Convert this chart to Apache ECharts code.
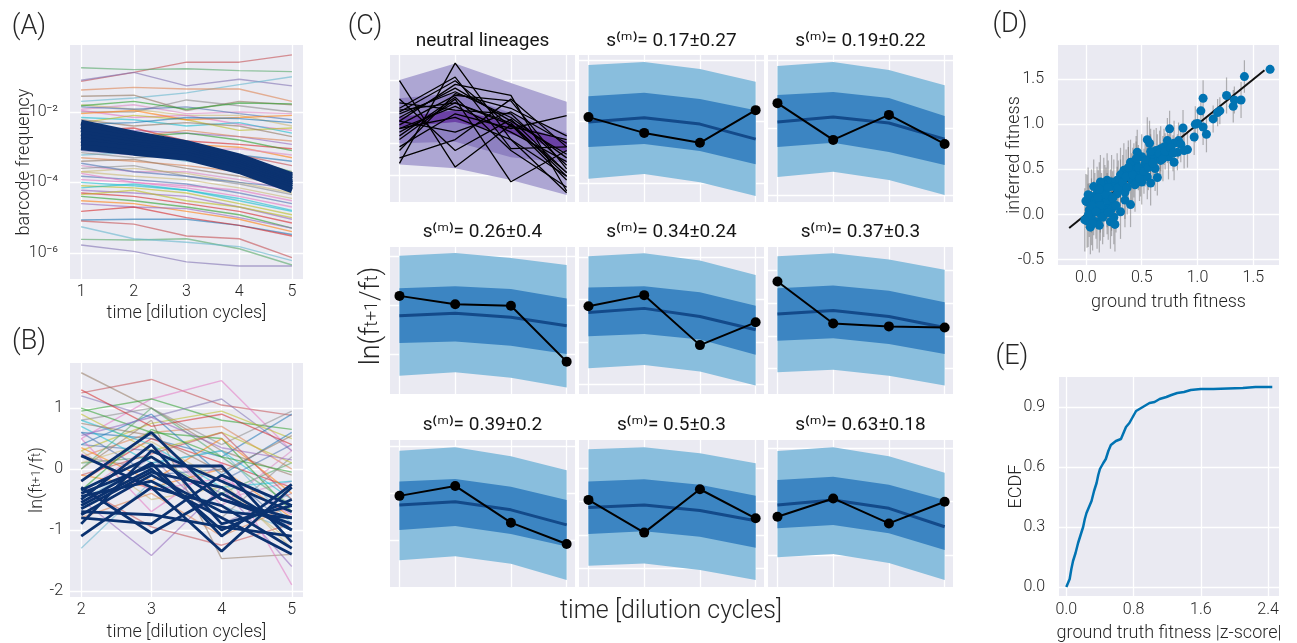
<!DOCTYPE html>
<html><head><meta charset="utf-8">
<script src="https://cdn.jsdelivr.net/npm/echarts@6/dist/echarts.min.js"></script>
<style>html,body{margin:0;padding:0;background:#fff}#c{width:1297px;height:643px}</style>
</head><body><div id="c"></div>
<script>
// ---------------- DATA ----------------
// (A) barcode frequency trajectories
const aTimes = [1, 2, 3, 4, 5];
const aTickValues = [1e-6, 1e-4, 1e-2];
const aLines = [
  [0.074, 0.133, 0.26, 0.26, 0.42],
  [0.18, 0.16, 0.17, 0.15, 0.14],
  [0.08, 0.133, 0.055, 0.085, 0.055],
  [0.02, 0.025, 0.035, 0.06, 0.1],
  [0.042, 0.05, 0.045, 0.045, 0.02],
  [0.028, 0.03, 0.011, 0.02, 0.016],
  [0.012, 0.016, 0.009, 0.01, 0.009],
  [0.01, 0.01, 0.022, 0.015, 0.01],
  [0.016, 0.012, 0.008, 0.008, 0.004],
  [0.014, 0.012, 0.014, 0.009, 0.006],
  [0.011, 0.007, 0.008, 0.0045, 0.003],
  [0.007, 0.006, 0.004, 0.005, 0.0025],
  [0.005, 0.008, 0.006, 0.003, 0.0035],
  [0.004, 0.003, 0.0025, 0.002, 0.0012],
  [0.003, 0.0035, 0.0015, 0.0012, 0.0009],
  [0.0025, 0.002, 0.0025, 0.0016, 0.0008],
  [0.002, 0.0013, 0.0012, 0.001, 0.0005],
  [0.0015, 0.0017, 0.0009, 0.0006, 0.0004],
  [0.0012, 0.0008, 0.001, 0.0006, 0.0003],
  [0.001, 0.0011, 0.0007, 0.0005, 0.0002],
  [0.0008, 0.0006, 0.0005, 0.0004, 0.00016],
  [0.0006, 0.0007, 0.0004, 0.0003, 0.00012],
  [0.0005, 0.0004, 0.0003, 0.0002, 0.0001],
  [0.0004, 0.00045, 0.00025, 0.00015, 7e-5],
  [0.0003, 0.0002, 0.0002, 0.00012, 6e-5],
  [0.00025, 0.0003, 0.00015, 9e-5, 4.5e-5],
  [0.0002, 0.00015, 0.00012, 7e-5, 3.5e-5],
  [0.00015, 0.00012, 9e-5, 5e-5, 2.5e-5],
  [0.00012, 0.0001, 7e-5, 4e-5, 2e-5],
  [0.0001, 8e-5, 6e-5, 3.5e-5, 1.6e-5],
  [8e-5, 7e-5, 5e-5, 2.5e-5, 1.2e-5],
  [6e-5, 5e-5, 4e-5, 2e-5, 9e-6],
  [5e-5, 4e-5, 2.5e-5, 1.5e-5, 7e-6],
  [4e-5, 3e-5, 2e-5, 1.2e-5, 5e-6],
  [3e-5, 2.5e-5, 1.5e-5, 9e-6, 4e-6],
  [8.5e-6, 9e-6, 9e-6, 6e-6, 3.3e-6],
  [8e-6, 6.5e-6, 3e-6, 2.5e-6, 7.3e-7],
  [2.4e-6, 2.3e-6, 2.5e-6, 1.3e-6, 4.5e-7],
  [1.66e-6, 1.1e-6, 5.5e-7, 4.2e-7, 4.2e-7],
  [5.5e-6, 2.5e-6, 2e-6, 1.5e-6, 6e-7],
  [0.003, 0.002, 0.003, 0.002, 0.0015],
  [0.006, 0.004, 0.005, 0.004, 0.002],
  [0.0009, 0.0012, 0.0008, 0.0009, 0.0006],
  [0.0007, 0.0005, 0.0006, 0.0003, 0.0002],
  [0.0002, 0.00025, 0.00018, 0.0001, 5e-5],
  [0.00035, 0.0002, 0.00015, 0.0001, 7e-5],
  [0.00018, 0.0001, 8e-5, 6e-5, 3e-5],
  [7e-5, 9e-5, 6e-5, 3e-5, 1.5e-5],
  [4.5e-5, 6e-5, 3e-5, 2e-5, 1e-5],
  [2.5e-5, 2e-5, 1.8e-5, 1e-5, 5e-6],
  [1.5e-5, 2e-5, 1e-5, 6e-6, 3e-6],
  [0.015, 0.02, 0.012, 0.018, 0.017],
  [0.009, 0.011, 0.006, 0.007, 0.008],
  [0.0045, 0.005, 0.007, 0.0065, 0.005]
];
const aNeutral = [
  [0.005, 0.0024, 0.0013, 5.5e-4, 1.6e-4],
  [0.004, 0.002, 0.0011, 4.8e-4, 1.4e-4],
  [0.0032, 0.0017, 0.0010, 4.2e-4, 1.2e-4],
  [0.0025, 0.0014, 0.0009, 3.6e-4, 1.0e-4],
  [0.002, 0.0012, 0.0008, 3.2e-4, 9e-5],
  [0.0016, 0.001, 0.0007, 2.8e-4, 8e-5],
  [0.0013, 0.0009, 0.0006, 2.4e-4, 7e-5],
  [0.001, 0.0007, 0.0005, 2.1e-4, 6e-5]
];

// (B) log frequency ratios
const bTimes = [2, 3, 4, 5];
const bTickValues = [-2, -1, 0, 1];
const bLines = [
  [1.25, 1.47, 1.05, 0.88], [1.58, 1.0, 0.3, -0.1], [0.5, 1.15, 1.45, 0.3],
  [0.95, 1.15, 0.8, 0.65], [1.2, 0.85, 1.15, 0.3], [0.8, 1.0, 0.4, 0.95],
  [0.3, 0.75, 0.95, 0.5], [0.6, 0.5, 0.2, 0.9], [0.2, 0.6, 0.7, 0.0],
  [0.4, 0.3, -0.2, 0.4], [-0.2, 0.5, 0.1, -0.3], [0.1, 0.2, -0.4, 0.1],
  [-0.4, 0.4, -0.5, -0.2], [0.7, 0.1, 0.3, -0.5], [-0.1, -0.3, 0.0, -0.8],
  [-1.3, -0.2, -0.6, -1.0], [0.3, -0.5, -0.3, -1.2], [-0.5, -1.42, -0.3, -1.6],
  [-0.3, -0.95, -1.25, -0.9], [0.0, 0.8, -1.47, -1.4], [0.5, -0.7, 0.1, -1.9],
  [1.0, 0.6, 0.5, -0.7], [-0.6, 0.2, -0.9, -0.4], [0.2, 0.0, -0.8, 0.2],
  [0.9, 0.3, 0.6, 0.1], [0.4, 0.9, -0.1, 0.6], [-0.8, -0.4, -1.1, -0.6],
  [0.6, -0.1, 0.0, -1.0], [1.3, 0.7, 0.9, 0.4], [0.0, 1.0, 0.2, -0.6],
  [-0.2, 0.6, -0.6, 0.3], [0.8, 0.4, -0.3, -0.2], [0.35, -0.2, 0.5, -0.4],
  [-0.5, 0.1, 0.3, -0.9], [0.1, 0.45, -0.2, -1.3], [0.55, 0.85, 0.35, 0.15],
  [-0.1, 0.25, 0.6, -0.5], [0.75, 0.55, -0.05, 0.55], [0.25, -0.35, -0.15, -0.75],
  [-0.35, 0.65, 0.2, -0.05]
];
const bNeutral = [
  [0.22, -0.3, -1.35, -0.3], [-0.2, 0.6, -0.5, -0.9], [-0.5, 0.4, -0.9, -0.6],
  [-0.6, 0.0, -1.0, -0.5], [-0.4, 0.05, 0.05, -1.2], [-0.75, -0.1, -0.7, -0.8],
  [-1.1, -0.3, -0.6, -1.3], [-0.3, -1.05, -0.4, -1.0], [-0.9, 0.3, -0.2, -0.7],
  [-0.45, -0.2, -0.8, -1.4], [-0.8, -0.9, -0.1, -0.6], [-0.55, 0.1, -1.1, -0.25],
  [-0.7, -0.75, -0.95, -1.1], [-0.35, 0.2, -0.5, -0.8], [-0.65, -0.05, -0.3, -1.0]
];

// (C) posterior predictive checks
const cTimes = [1, 2, 3, 4];
const cTitles = ['neutral lineages', 's⁽ᵐ⁾= 0.17±0.27', 's⁽ᵐ⁾= 0.19±0.22',
  's⁽ᵐ⁾= 0.26±0.4', 's⁽ᵐ⁾= 0.34±0.24', 's⁽ᵐ⁾= 0.37±0.3',
  's⁽ᵐ⁾= 0.39±0.2', 's⁽ᵐ⁾= 0.5±0.3', 's⁽ᵐ⁾= 0.63±0.18'];
const cGridY = [
  [1.32, 0.44, -0.40, -1.27], [1.85, 0.19, -1.49], [1.85, 0.0, -1.81],
  [1.75, 0.42, -0.91], [1.72, 0.57, -0.58, -1.73], [1.36, 0.47, -0.42, -1.31],
  [1.82, 0.55, -0.72], [1.23, 0.32, -0.59, -1.50], [1.77, 0.32, -1.13]
];
const neutralOuterHi = [1.32, 1.77, 1.24, 0.73];
const neutralOuterLo = [-0.98, -1.08, -1.40, -1.81];
const neutralMidHi = [0.82, 0.96, 0.42, -0.13];
const neutralMidLo = [-0.40, -0.36, -0.78, -0.94];
const neutralInnerHi = [0.31, 0.50, 0.18, -0.34];
const neutralInnerLo = [0.04, 0.18, -0.15, -0.64];
const neutralObs = [
  [1.30, -1.05, 0.10, -1.20], [-0.95, 1.78, -0.30, -1.30], [0.55, 1.40, -0.55, -0.50],
  [0.20, 1.20, 0.90, -1.70], [0.40, 1.00, 0.30, -0.80], [0.10, 0.90, 0.75, -1.10],
  [-0.30, 0.80, -1.45, -0.60], [0.50, 0.70, 0.10, -1.40], [-0.60, 0.95, 0.55, -0.20],
  [0.00, 0.60, -0.10, -0.90], [0.70, 0.50, 0.40, -1.00], [-0.20, 0.85, -0.60, -1.60],
  [0.30, 1.10, 0.20, -0.70], [-0.50, 0.40, 0.00, 0.35], [0.20, -0.10, 0.45, -0.40],
  [0.80, -0.60, 0.25, -1.20], [-0.80, -0.30, 0.80, -0.50], [0.00, 0.30, -0.30, -1.75],
  [0.45, 1.30, 0.05, -0.30], [-0.10, 0.70, 0.15, -1.30]
];
const cLightHi = [
  [1.73, 1.81, 1.62, 1.27], [1.70, 1.81, 1.59, 1.18], [1.76, 1.84, 1.70, 1.51],
  [1.75, 1.83, 1.63, 1.24], [1.75, 1.83, 1.66, 1.38], [1.71, 1.80, 1.56, 1.18],
  [1.75, 1.80, 1.64, 1.37], [1.70, 1.80, 1.56, 1.11]];
const cLightLo = [
  [-1.37, -1.24, -1.46, -1.84], [-1.32, -1.18, -1.40, -1.81], [-1.50, -1.41, -1.56, -1.82],
  [-1.30, -1.21, -1.39, -1.77], [-1.41, -1.34, -1.50, -1.77], [-1.27, -1.16, -1.37, -1.81],
  [-1.42, -1.36, -1.54, -1.81], [-1.19, -1.10, -1.35, -1.81]];
const cDarkHi = [
  [0.88, 0.97, 0.80, 0.50], [0.91, 0.99, 0.83, 0.34], [0.88, 0.93, 0.86, 0.60],
  [0.90, 0.93, 0.77, 0.40], [0.88, 0.95, 0.81, 0.50], [0.87, 0.94, 0.73, 0.37],
  [0.87, 0.93, 0.78, 0.48], [0.91, 1.00, 0.78, 0.37]];
const cDarkLo = [
  [-0.50, -0.42, -0.61, -0.97], [-0.50, -0.39, -0.64, -0.99], [-0.61, -0.57, -0.69, -0.91],
  [-0.43, -0.37, -0.52, -0.93], [-0.55, -0.48, -0.64, -0.91], [-0.45, -0.34, -0.56, -0.90],
  [-0.56, -0.48, -0.63, -0.93], [-0.40, -0.31, -0.54, -0.99]];
const cMedian = [
  [0.18, 0.29, 0.12, -0.29], [0.18, 0.31, 0.15, -0.29], [0.13, 0.20, 0.09, -0.14],
  [0.22, 0.33, 0.11, -0.25], [0.18, 0.27, 0.11, -0.19], [0.23, 0.32, 0.10, -0.31],
  [0.16, 0.23, 0.08, -0.20], [0.23, 0.37, 0.14, -0.36]];
const cObserved = [
  [0.31, -0.12, -0.39, 0.50], [0.69, -0.31, 0.37, -0.42], [0.67, 0.44, 0.40, -1.12],
  [0.39, 0.69, -0.67, -0.05], [1.06, -0.08, -0.16, -0.19], [0.48, 0.75, -0.25, -0.83],
  [0.37, -0.52, 0.66, -0.13], [-0.09, 0.41, -0.27, 0.32]];

// (D) inferred vs ground truth fitness
const dTruth = [1.65,1.42,1.39,1.32,1.33,1.26,1.20,1.18,1.14,1.05,1.03,1.05,1.08,1.00,0.98,0.97,0.87,0.91,0.75,0.83,
  0.79,0.73,0.70,0.67,0.82,0.79,0.74,0.55,0.57,0.61,0.64,0.67,0.58,0.50,0.53,0.62,0.64,0.46,0.45,0.40,
  0.43,0.49,0.38,0.41,0.50,0.55,0.58,0.40,0.34,0.31,0.28,0.23,0.19,0.25,0.31,0.35,0.28,0.22,0.16,0.13,
  0.07,0.10,0.17,0.23,0.19,0.14,0.08,0.05,0.01,0.03,0.05,0.01,0.04,0.10,0.13,0.16,0.22,0.25,0.23,0.31,
  0.02,-0.01,0.07,0.13,0.19,0.00,
  0.05,0.09,0.12,0.02,0.06,0.11,0.15,0.18,0.20,0.24,0.27,0.29,0.33,0.36,0.37,0.42,0.44,0.47,0.48,0.52,
  0.54,0.56,0.60,0.63,0.66,0.69,0.71,0.76,0.78,0.85,0.88,0.26,0.35,0.12,0.20,0.38,0.45,0.58];
const dInferred = [1.61,1.53,1.27,1.20,1.27,1.32,1.15,1.13,1.06,1.29,1.15,0.97,0.89,1.01,1.00,0.86,0.96,0.72,0.95,0.82,
  0.79,0.82,0.75,0.73,0.69,0.58,0.64,0.83,0.79,0.69,0.64,0.60,0.64,0.64,0.56,0.51,0.41,0.69,0.56,0.58,
  0.49,0.45,0.45,0.38,0.36,0.42,0.35,0.11,0.49,0.44,0.38,0.36,0.38,0.31,0.31,0.25,0.23,0.20,0.33,0.36,
  0.31,0.23,0.25,0.12,0.08,0.16,0.16,0.20,0.14,0.05,-0.04,-0.07,-0.14,-0.08,0.01,0.05,-0.08,-0.03,0.06,0.03,
  -0.01,-0.06,0.07,0.10,0.16,0.15,
  0.10,0.03,-0.12,0.22,-0.10,0.19,-0.03,0.22,0.02,0.18,0.10,0.30,0.36,0.42,0.30,0.44,0.33,0.52,0.40,0.48,
  0.60,0.52,0.57,0.71,0.68,0.62,0.70,0.74,0.68,0.78,0.71,-0.11,0.16,0.28,0.30,0.52,0.62,0.70];
const dError = [0.05,0.18,0.20,0.18,0.15,0.20,0.15,0.15,0.15,0.20,0.15,0.20,0.20,0.15,0.20,0.20,0.20,0.20,0.20,0.20,
  0.25,0.25,0.20,0.25,0.20,0.20,0.25,0.25,0.25,0.25,0.25,0.20,0.25,0.25,0.25,0.25,0.20,0.25,0.25,0.25,
  0.30,0.25,0.30,0.30,0.25,0.25,0.25,0.25,0.30,0.30,0.30,0.30,0.30,0.30,0.30,0.30,0.30,0.30,0.30,0.30,
  0.30,0.30,0.30,0.30,0.30,0.30,0.30,0.30,0.30,0.30,0.30,0.30,0.30,0.30,0.30,0.30,0.30,0.30,0.30,0.30,
  0.35,0.35,0.30,0.30,0.30,0.30,
  0.30,0.30,0.30,0.30,0.30,0.30,0.30,0.30,0.30,0.30,0.30,0.30,0.30,0.30,0.30,0.30,0.30,0.25,0.25,0.25,
  0.25,0.25,0.25,0.25,0.25,0.25,0.20,0.20,0.20,0.20,0.20,0.30,0.30,0.30,0.30,0.30,0.25,0.25];
const dIdentity = [-0.15, 1.6];

// (E) ECDF of |z-score|
const eZ = [0,0.02,0.04,0.06,0.08,0.11,0.14,0.17,0.20,0.22,0.24,0.27,0.30,0.33,0.36,0.38,0.40,0.44,0.47,0.50,0.53,0.56,0.59,0.62,0.65,0.68,0.71,0.73,0.75,0.79,0.83,0.87,0.91,0.95,0.99,1.05,1.11,1.15,1.19,1.25,1.32,1.40,1.48,1.60,1.75,1.92,2.10,2.25,2.45];
const eECDF = [0,0.02,0.04,0.09,0.13,0.17,0.22,0.26,0.30,0.34,0.37,0.40,0.43,0.48,0.52,0.56,0.59,0.62,0.64,0.68,0.71,0.72,0.73,0.735,0.74,0.77,0.80,0.81,0.82,0.85,0.88,0.89,0.90,0.91,0.92,0.925,0.94,0.945,0.95,0.96,0.97,0.975,0.985,0.99,0.99,0.993,0.995,1.0,1.0];

// ---------------- STYLE / BUILD ----------------
const FONT = 'Roboto, "Open Sans", "DejaVu Sans", sans-serif';
const BG = '#EAEAF2';
const TXT = '#262626';
const PALETTE = ['#c44e52','#55a868','#8172b2','#64b5cd','#dd8452','#937860','#da8bc3','#8c8c8c',
  '#ccb974','#4c72b0','#e377c2','#17becf','#bcbd22','#9467bd','#d62728','#2ca02c','#ff7f0e','#1f77b4'];
const NAVY = '#0b3270';

function merge(a, b) {
  const o = Object.assign({}, a);
  for (const k in b) {
    if (b[k] && typeof b[k] === 'object' && !Array.isArray(b[k]) && a[k] && typeof a[k] === 'object') o[k] = merge(a[k], b[k]);
    else o[k] = b[k];
  }
  return o;
}
function baseAxis() {
  return {
    type: 'value', axisLine: {show: false}, axisTick: {show: false},
    splitLine: {show: true, lineStyle: {color: '#ffffff', width: 1.3}},
    axisLabel: {color: TXT, fontSize: 16, fontFamily: FONT, fontWeight: 300},
    nameLocation: 'middle', nameMoveOverlap: false,
    nameTextStyle: {color: TXT, fontSize: 18, fontFamily: FONT, fontWeight: 300}
  };
}
const grid = [], xAxis = [], yAxis = [], series = [], graphic = [];
function addPanel(rect, xo, yo) {
  const gi = grid.length;
  grid.push(Object.assign({show: true, backgroundColor: BG, borderWidth: 0}, rect));
  xAxis.push(merge(baseAxis(), Object.assign({gridIndex: gi}, xo)));
  yAxis.push(merge(baseAxis(), Object.assign({gridIndex: gi}, yo)));
  return gi;
}
function line(gi, xs, ys, lineStyle, extra) {
  return Object.assign({
    type: 'line', xAxisIndex: gi, yAxisIndex: gi, silent: true, animation: false,
    data: xs.map((x, i) => [x, ys[i]]), symbol: 'none', showSymbol: false, lineStyle: lineStyle
  }, extra || {});
}
function band(gi, xs, lo, hi, color, z) {
  return {
    type: 'custom', xAxisIndex: gi, yAxisIndex: gi, silent: true, animation: false, z: z,
    data: xs.map((x, i) => [x, lo[i], hi[i]]),
    renderItem: function (params, api) {
      if (params.dataIndex !== 0) return null;
      const n = xs.length, top = [], bot = [];
      for (let i = 0; i < n; i++) {
        top.push(api.coord([api.value(0, i), api.value(2, i)]));
        bot.unshift(api.coord([api.value(0, i), api.value(1, i)]));
      }
      return {type: 'polygon', shape: {points: top.concat(bot)}, style: {fill: color}};
    }
  };
}
const SUP = {'-': '⁻', '0': '⁰', '1': '¹', '2': '²', '3': '³', '4': '⁴', '5': '⁵', '6': '⁶', '7': '⁷', '8': '⁸', '9': '⁹'};
function powLabel(v) {
  const e = String(Math.round(Math.log10(v)));
  return '10' + e.split('').map(c => SUP[c]).join('');
}
const LN_NAME = 'ln(f{s|t+1}/f{s|t})';

// Panel A
const gA = addPanel({left: 70, top: 45, width: 233, height: 234},
  {min: 0.79, max: 5.21, axisTick: {customValues: aTimes}, axisLabel: {customValues: aTimes, margin: 5},
   name: 'time [dilution cycles]', nameGap: 25},
  {type: 'log', logBase: 10, min: 1.8e-7, max: 0.8,
   axisTick: {customValues: aTickValues}, axisLabel: {customValues: aTickValues, formatter: powLabel, margin: 12},
   name: 'barcode frequency', nameGap: 37});
aLines.forEach((r, i) => series.push(line(gA, aTimes, r, {color: PALETTE[i % PALETTE.length], width: 1.4, opacity: 0.6}, {z: 2})));
aNeutral.forEach(r => series.push(line(gA, aTimes, r, {color: NAVY, width: 6}, {z: 3})));

// Panel B
const gB = addPanel({left: 70, top: 363, width: 233, height: 234},
  {min: 1.84, max: 5.16, axisTick: {customValues: bTimes}, axisLabel: {customValues: bTimes, margin: 5},
   name: 'time [dilution cycles]', nameGap: 26},
  {min: -2.1, max: 1.74, axisTick: {customValues: bTickValues}, axisLabel: {customValues: bTickValues, margin: 7},
   name: LN_NAME, nameGap: 24,
   nameTextStyle: {rich: {s: {fontSize: 12, fontFamily: FONT, fontWeight: 300, color: TXT}}}});
bLines.forEach((r, i) => series.push(line(gB, bTimes, r, {color: PALETTE[(i * 5) % PALETTE.length], width: 1.4, opacity: 0.55}, {z: 2})));
bNeutral.forEach(r => series.push(line(gB, bTimes, r, {color: NAVY, width: 2.8}, {z: 3})));

// Panel C
const cLefts = [390, 579, 768], cTops = [55, 247, 440], cW = 185, cH = 147;
const cTitleY = [41, 232, 425];
for (let k = 0; k < 9; k++) {
  const r = Math.floor(k / 3), c = k % 3;
  const g = addPanel({left: cLefts[c], top: cTops[r], width: cW, height: cH},
    {min: 0.83, max: 4.15, axisTick: {customValues: cTimes}, axisLabel: {show: false}},
    {min: -2, max: 2, axisTick: {customValues: cGridY[k]}, axisLabel: {show: false}});
  graphic.push({type: 'text', x: cLefts[c] + cW / 2, y: cTitleY[r], silent: true,
    style: {text: cTitles[k], fill: '#151515', fontSize: 19, fontFamily: FONT, align: 'center', verticalAlign: 'middle'}});
  if (k === 0) {
    series.push(band(g, cTimes, neutralOuterLo, neutralOuterHi, '#ADA6D3', 2));
    series.push(band(g, cTimes, neutralMidLo, neutralMidHi, '#8E81C1', 3));
    series.push(band(g, cTimes, neutralInnerLo, neutralInnerHi, '#6B41A6', 4));
    neutralObs.forEach(o => series.push(line(g, cTimes, o, {color: '#000', width: 1.3}, {z: 5})));
  } else {
    const j = k - 1;
    series.push(band(g, cTimes, cLightLo[j], cLightHi[j], '#89BEDD', 2));
    series.push(band(g, cTimes, cDarkLo[j], cDarkHi[j], '#3C85C2', 3));
    series.push(line(g, cTimes, cMedian[j], {color: '#134A8A', width: 3}, {z: 4}));
    series.push(line(g, cTimes, cObserved[j], {color: '#000', width: 2},
      {z: 5, symbol: 'circle', symbolSize: 10, showSymbol: true, itemStyle: {color: '#000'}}));
  }
}

// Panel D
const dXT = [0, 0.5, 1.0, 1.5], dYT = [-0.5, 0, 0.5, 1.0, 1.5];
const gD = addPanel({left: 1058, top: 45, width: 221, height: 220},
  {min: -0.25, max: 1.73, axisTick: {customValues: dXT},
   axisLabel: {customValues: dXT, formatter: v => v.toFixed(1), margin: 5}, name: 'ground truth fitness', nameGap: 28},
  {min: -0.56, max: 1.88, axisTick: {customValues: dYT},
   axisLabel: {customValues: dYT, formatter: v => v.toFixed(1), margin: 14}, name: 'inferred fitness', nameGap: 35});
series.push({
  type: 'custom', xAxisIndex: gD, yAxisIndex: gD, silent: true, animation: false, z: 2,
  data: dTruth.map((x, i) => [x, dInferred[i] - dError[i], dInferred[i] + dError[i]]),
  renderItem: function (params, api) {
    const a = api.coord([api.value(0), api.value(1)]), b = api.coord([api.value(0), api.value(2)]);
    return {type: 'line', shape: {x1: a[0], y1: a[1], x2: b[0], y2: b[1]}, style: {stroke: 'rgba(110,110,110,0.5)', lineWidth: 1.2}};
  }
});
series.push(line(gD, dIdentity, dIdentity, {color: '#111', width: 2}, {z: 3}));
series.push({type: 'scatter', xAxisIndex: gD, yAxisIndex: gD, silent: true, animation: false, z: 4,
  data: dTruth.map((x, i) => [x, dInferred[i]]), symbolSize: 9, itemStyle: {color: '#0173B2', opacity: 1}});

// Panel E
const eXT = [0, 0.8, 1.6, 2.4], eYT = [0, 0.3, 0.6, 0.9];
const gE = addPanel({left: 1059, top: 377, width: 220, height: 219},
  {min: -0.087, max: 2.53, axisTick: {customValues: eXT},
   axisLabel: {customValues: eXT, formatter: v => v.toFixed(1), margin: 6}, name: 'ground truth fitness |z-score|', nameGap: 28},
  {min: -0.045, max: 1.05, axisTick: {customValues: eYT},
   axisLabel: {customValues: eYT, formatter: v => v.toFixed(1), margin: 14}, name: 'ECDF', nameGap: 34});
series.push(line(gE, eZ, eECDF, {color: '#0173B2', width: 2.5}, {z: 3}));

// Panel letters and shared C labels
[['(A)', 29, 27], ['(B)', 29, 342], ['(C)', 365, 27], ['(D)', 1010, 25], ['(E)', 1012, 357]].forEach(p => {
  graphic.push({type: 'text', x: p[1], y: p[2], silent: true,
    style: {text: p[0], fill: TXT, fontSize: 27, fontFamily: FONT, fontWeight: 300, align: 'center', verticalAlign: 'middle'}});
});
graphic.push({type: 'text', x: 671, y: 612, silent: true,
  style: {text: 'time [dilution cycles]', fill: TXT, fontSize: 25, fontFamily: FONT, fontWeight: 300, align: 'center', verticalAlign: 'middle'}});
graphic.push({type: 'text', x: 372, y: 316, rotation: Math.PI / 2, silent: true,
  style: {text: LN_NAME, fill: TXT, fontSize: 27, fontFamily: FONT, fontWeight: 300, align: 'center', verticalAlign: 'middle',
          rich: {s: {fontSize: 18, fontFamily: FONT, fontWeight: 300, fill: TXT}}}});

const chart = echarts.init(document.getElementById('c'), null, {renderer: 'canvas'});
chart.setOption({animation: false, backgroundColor: '#ffffff', grid, xAxis, yAxis, series, graphic});
</script></body></html>
